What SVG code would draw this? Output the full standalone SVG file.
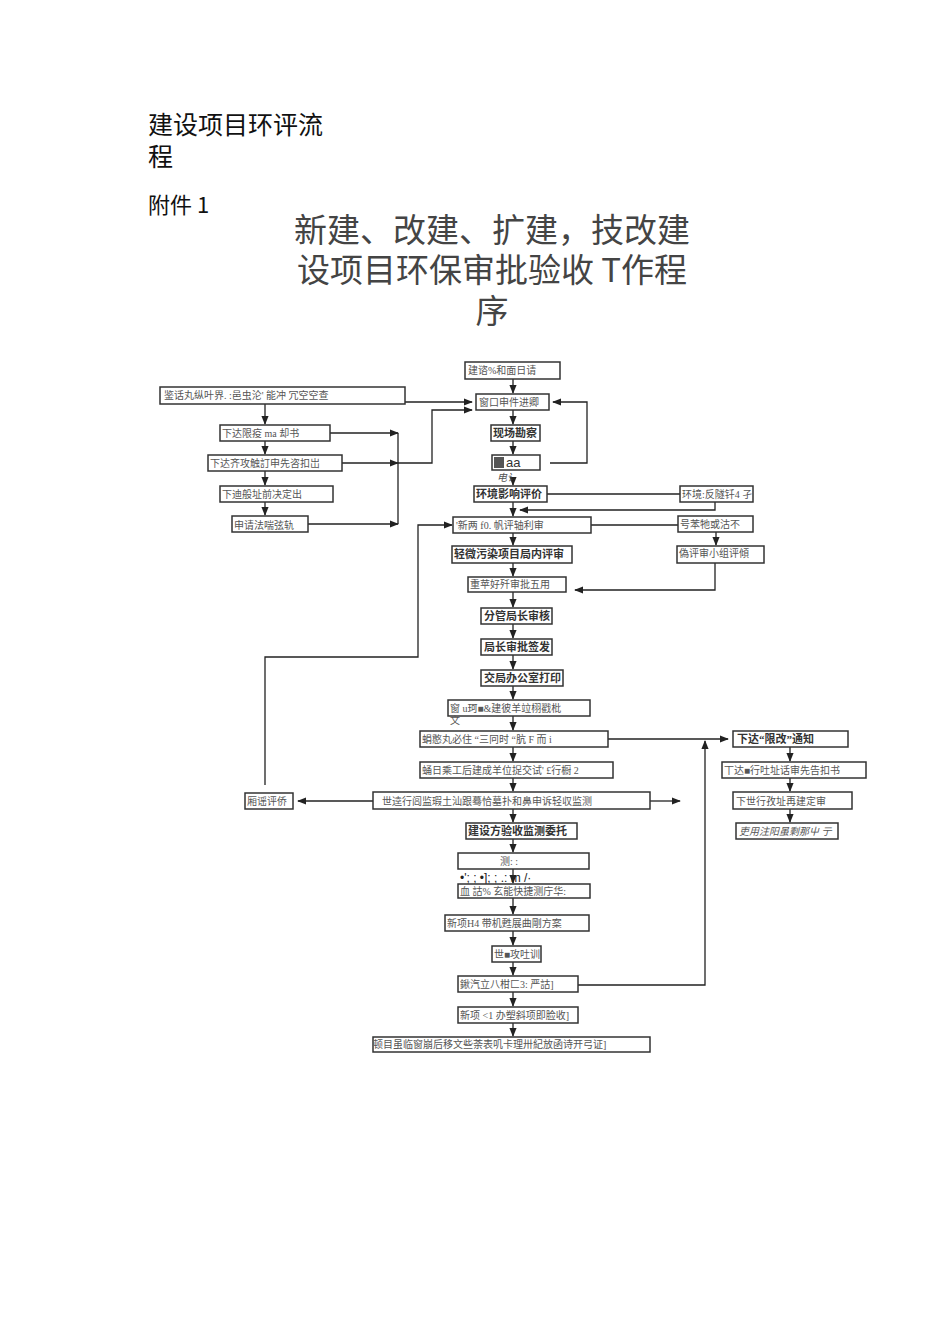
<svg xmlns="http://www.w3.org/2000/svg" width="950" height="1318" viewBox="0 0 950 1318">
<defs>
<marker id="ar" viewBox="0 0 10 10" refX="9" refY="5" markerWidth="7" markerHeight="7" orient="auto"><path d="M0,1 L10,5 L0,9 z" fill="#222"/></marker>
<style>
.b{fill:#fff;stroke:#333;stroke-width:1.5}
.t{font-family:"Liberation Serif","Noto Sans CJK SC",serif;font-size:10px;fill:#555}
.tb{font-family:"Liberation Serif","Noto Sans CJK SC",serif;font-size:11px;fill:#333;font-weight:bold}
.c{fill:none;stroke:#222;stroke-width:1.3}
.a{fill:none;stroke:#222;stroke-width:1.3;marker-end:url(#ar)}
.h{font-family:"Noto Sans CJK SC",sans-serif;fill:#111}
</style>
</defs>
<rect width="950" height="1318" fill="#fff"/>
<text class="h" x="148" y="134" font-size="25">建设项目环评流</text>
<text class="h" x="148" y="166" font-size="25">程</text>
<text class="h" x="148" y="213" font-size="22">附件 1</text>
<g class="h" font-size="33" text-anchor="middle">
<text x="492" y="242" fill="#444">新建、改建、扩建，技改建</text>
<text x="492" y="282" fill="#444">设项目环保审批验收 T作程</text>
<text x="492" y="323" fill="#444">序</text>
</g>
<g id="connectors">
<path class="a" d="M513,379 V393"/><path class="a" d="M513,410 V424"/><path class="a" d="M513,441 V454"/>
<path class="a" d="M513,478 V485"/><path class="a" d="M513,502 V516"/><path class="a" d="M513,533 V545"/>
<path class="a" d="M513,563 V576"/><path class="a" d="M513,592 V607"/><path class="a" d="M513,624 V638"/>
<path class="a" d="M513,655 V669"/><path class="a" d="M513,686 V699"/><path class="a" d="M513,716 V730"/>
<path class="a" d="M513,747 V761"/><path class="a" d="M513,778 V791"/><path class="a" d="M513,809 V822"/>
<path class="a" d="M513,839 V852"/><path class="a" d="M513,869 V883"/><path class="a" d="M513,898 V914"/>
<path class="a" d="M513,931 V945"/><path class="a" d="M513,962 V975"/><path class="a" d="M513,992 V1006"/>
<path class="a" d="M513,1023 V1036"/>
<path class="a" d="M405,402 H472"/>
<path class="a" d="M265,404 V424"/><path class="a" d="M265,441 V454"/><path class="a" d="M265,471 V485"/><path class="a" d="M265,502 V515"/>
<path class="a" d="M330,433 H398"/><path class="a" d="M342,463 H398"/><path class="a" d="M308,524 H398"/>
<path class="c" d="M398,433 V524"/><path class="a" d="M398,463 H432 V410 H472"/>
<path class="a" d="M550,463 H587 V402 H553"/>
<path class="c" d="M547,494 H680"/><path class="a" d="M715,502 V510 H520"/>
<path class="c" d="M591,525 H678"/><path class="a" d="M716,532 V545"/>
<path class="a" d="M715,563 V590 H575"/>
<path class="a" d="M265,785 V657 H418 V525 H452"/>
<path class="a" d="M373,801 H298"/><path class="a" d="M650,801 H680"/>
<path class="a" d="M608,739 H728"/><path class="a" d="M578,985 H705 V741"/>
<path class="a" d="M790,747 V761"/><path class="a" d="M790,778 V791"/><path class="a" d="M790,809 V822"/>
</g>
<g id="n1"><rect class="b" x="465" y="362" width="95" height="17"/><text class="t" x="468" y="374">建谘%和面日请</text></g>
<g id="n2"><rect class="b" x="476" y="394" width="73" height="16"/><text class="t" x="479" y="406">窗口申件进卿</text></g>
<g id="n3"><rect class="b" x="491" y="425" width="49" height="16"/><text class="tb" x="493" y="437">现场勘察</text></g>
<g id="n4"><rect class="b" x="492" y="455" width="48" height="15"/><rect x="494" y="457" width="10" height="11" fill="#555"/><text x="506" y="467" font-family="Liberation Sans,sans-serif" font-size="13" fill="#333">aa</text><text class="t" x="497" y="481" font-style="italic">电讠</text></g>
<g id="n5"><rect class="b" x="474" y="486" width="73" height="16"/><text class="tb" x="476" y="498">环境影响评价</text></g>
<g id="n6"><rect class="b" x="453" y="517" width="138" height="16"/><text class="t" x="456" y="529">'新两 f0. 帆评轴利审</text></g>
<g id="n7"><rect class="b" x="452" y="546" width="120" height="17"/><text class="tb" x="454" y="558">轻微污染项目局内评审</text></g>
<g id="n8"><rect class="b" x="468" y="577" width="98" height="15"/><text class="t" x="470" y="588">重苹好歼审批五用</text></g>
<g id="n9"><rect class="b" x="481" y="608" width="71" height="16"/><text class="tb" x="484" y="620">分管局长审核</text></g>
<g id="n10"><rect class="b" x="481" y="639" width="71" height="16"/><text class="tb" x="484" y="651">局长审批签发</text></g>
<g id="n11"><rect class="b" x="481" y="670" width="82" height="16"/><text class="tb" x="484" y="682">交局办公室打印</text></g>
<g id="n12"><rect class="b" x="448" y="700" width="142" height="16"/><text class="t" x="450" y="712">窗 u珂■&amp;建彼羊竝栩戳枇</text><text class="t" x="450" y="724">文</text></g>
<g id="n13"><rect class="b" x="420" y="731" width="188" height="16"/><text class="t" x="422" y="743">蜎憨丸必住 “三冋时 “肮 F 而 i</text></g>
<g id="n14"><rect class="b" x="420" y="762" width="193" height="16"/><text class="t" x="422" y="774">蛹日乘工后建成羊位捉交试' £行橱 2</text></g>
<g id="n15"><rect class="b" x="373" y="792" width="277" height="17"/><text class="t" x="382" y="805" font-size="12">世逵行闾监瑕土汕跟蓦恰墓扑和鼻申诉轻収监测</text></g>
<g id="n16"><rect class="b" x="466" y="823" width="111" height="16"/><text class="tb" x="468" y="835">建设方验收监测委托</text></g>
<g id="n17"><rect class="b" x="458" y="853" width="131" height="16"/><text class="t" x="500" y="865">测: :</text><text x="460" y="882" font-family="Liberation Sans,sans-serif" font-size="12" fill="#222">•'; ; •]; ; .: m /·</text></g>
<g id="n18"><rect class="b" x="458" y="884" width="132" height="14"/><text class="t" x="460" y="895">血 詁% 玄能快捷测庁华:</text></g>
<g id="n19"><rect class="b" x="445" y="915" width="144" height="16"/><text class="t" x="447" y="927">新项H4 带机甦展曲剛方案</text></g>
<g id="n20"><rect class="b" x="492" y="946" width="49" height="16"/><text class="t" x="494" y="958">世■攻吐训</text></g>
<g id="n21"><rect class="b" x="458" y="976" width="120" height="16"/><text class="t" x="460" y="988">鍬汽立八柑匚3:  严詁]</text></g>
<g id="n22"><rect class="b" x="458" y="1007" width="120" height="16"/><text class="t" x="460" y="1019">新项 &lt;1 办塑斜项即脸收]</text></g>
<g id="n23"><rect class="b" x="373" y="1037" width="277" height="15"/><text class="t" x="373" y="1048">顿目虽临窗崩后移文些荼表叽卡理卅紀放函诗开弓证]</text></g>
<g id="l1"><rect class="b" x="160" y="387" width="245" height="17"/><text class="t" x="164" y="399">鉴话丸纵叶界. :邑虫沦' 能冲 冗空空查</text></g>
<g id="l2"><rect class="b" x="220" y="425" width="110" height="16"/><text class="t" x="222" y="437">下达限疫 ma 却书</text></g>
<g id="l3"><rect class="b" x="208" y="455" width="134" height="16"/><text class="t" x="210" y="467">下达齐攻触訂申先咨扣岀</text></g>
<g id="l4"><rect class="b" x="220" y="486" width="113" height="16"/><text class="t" x="222" y="498">下迪般址前决定出</text></g>
<g id="l5"><rect class="b" x="232" y="516" width="76" height="16"/><text class="t" x="234" y="529" font-size="12">申请法喘弦轨</text></g>
<g id="l6"><rect class="b" x="245" y="793" width="48" height="16"/><text class="t" x="247" y="805">厢谣评侨</text></g>
<g id="r1"><rect class="b" x="680" y="486" width="73" height="16"/><text class="t" x="682" y="498">环境:反隧钎4 孑</text></g>
<g id="r2"><rect class="b" x="678" y="516" width="75" height="16"/><text class="t" x="680" y="528">号苯牠或沽不</text></g>
<g id="r3"><rect class="b" x="677" y="546" width="87" height="17"/><text class="t" x="679" y="557">偽评审小组评傾</text></g>
<g id="r4"><rect class="b" x="733" y="731" width="115" height="16"/><text class="tb" x="737" y="743">下达“限改”通知</text></g>
<g id="r5"><rect class="b" x="722" y="762" width="144" height="16"/><text class="t" x="724" y="774">丅达■行吐址话审先告扣书</text></g>
<g id="r6"><rect class="b" x="733" y="792" width="119" height="17"/><text class="t" x="736" y="805" font-size="12">下世行孜址再建定审</text></g>
<g id="r7"><rect class="b" x="736" y="823" width="102" height="16"/><text class="t" x="739" y="835" font-style="italic">吏用注阳虽剩那屮  亍</text></g>
</svg>
